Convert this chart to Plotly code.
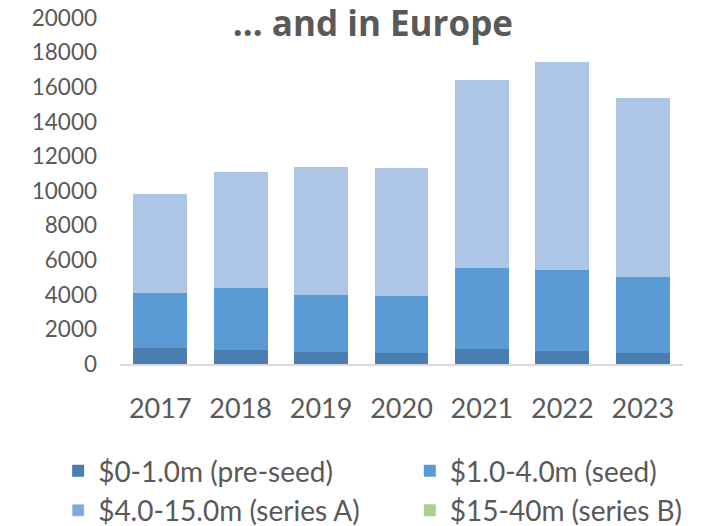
import plotly.graph_objects as go

years = ["2017", "2018", "2019", "2020", "2021", "2022", "2023"]
pre_seed = [900, 810, 700, 650, 870, 730, 650]
seed = [3220, 3600, 3300, 3300, 4700, 4700, 4400]
series_a = [5680, 6690, 7400, 7400, 10830, 12020, 10350]
series_b = [0, 0, 0, 0, 0, 0, 0]

names = ["$0-1.0m (pre-seed)", "$1.0-4.0m (seed)", "$4.0-15.0m (series A)", "$15-40m (series B)"]
y_ticks = [0, 2000, 4000, 6000, 8000, 10000, 12000, 14000, 16000, 18000, 20000]

FONT = "Lato"
GREY = "#595959"

fig = go.Figure()
fig.add_trace(go.Bar(x=years, y=pre_seed, name=names[0], legend="legend",
                     marker=dict(color="#4a7db0", line=dict(width=0))))
fig.add_trace(go.Bar(x=years, y=seed, name=names[1], legend="legend2",
                     marker=dict(color="#5b9bd5", line=dict(width=0))))
fig.add_trace(go.Bar(x=years, y=series_a, name=names[2], showlegend=False,
                     marker=dict(color="#aec6e6", line=dict(width=0))))
# legend entry for series A (swatch colour as in the reference legend)
fig.add_trace(go.Bar(x=years, y=[None] * len(years), name=names[2], legend="legend",
                     marker=dict(color="#80aadc")))
fig.add_trace(go.Bar(x=years, y=series_b, name=names[3], legend="legend2",
                     marker=dict(color="#a9d18e", line=dict(width=0))))

legend_common = dict(orientation="v", xref="container", yref="container", xanchor="left",
                     y=0.152, yanchor="top", font=dict(size=28, color=GREY), itemwidth=30,
                     traceorder="normal", tracegroupgap=0, bgcolor="rgba(0,0,0,0)")

fig.update_layout(
    width=709, height=526,
    margin=dict(l=120, r=26, t=18, b=162, autoexpand=False),
    barmode="stack",
    bargap=0.33,
    plot_bgcolor="white",
    paper_bgcolor="white",
    font=dict(family=FONT, color=GREY),
    title=dict(text="<b>… and in Europe</b>", x=0.526, xanchor="center", y=0.954, yanchor="middle",
               xref="container", yref="container",
               font=dict(family="Open Sans", size=35, color=GREY)),
    xaxis=dict(showgrid=False, showline=True, linecolor="#d9d9d9", linewidth=2,
               ticks="", tickfont=dict(size=27, color=GREY), ticklabelstandoff=20),
    yaxis=dict(range=[0, 20000], tickvals=y_ticks, tickformat="d", showgrid=False, zeroline=False,
               showline=False, ticks="", tickfont=dict(size=22.5, color=GREY), ticklabelstandoff=22),
    legend=dict(legend_common, x=0.082),
    legend2=dict(legend_common, x=0.578),
    showlegend=True,
)

fig.write_html("out.html")
